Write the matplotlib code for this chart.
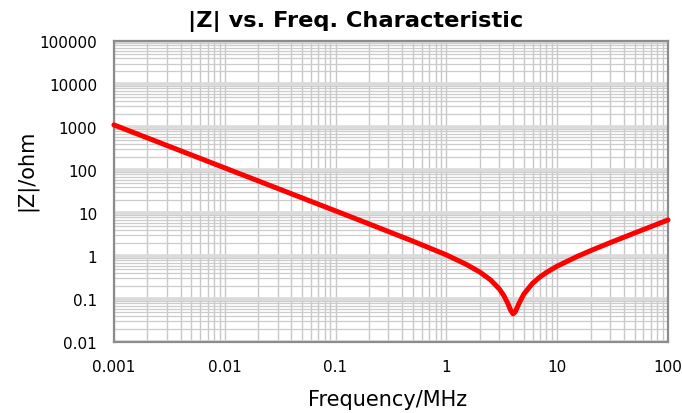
import matplotlib
matplotlib.use("Agg")
import matplotlib.pyplot as plt
from matplotlib.ticker import LogLocator, FuncFormatter, NullFormatter

# Data
freq_mhz = [0.001, 0.002, 0.005, 0.01, 0.02, 0.05, 0.1, 0.2, 0.5, 1.0, 1.5, 2.0,
            2.5, 3.0, 3.3, 3.6, 3.8, 4.0, 4.2, 4.5, 5.0, 6.0, 7.0, 8.0, 10.0,
            15.0, 20.0, 30.0, 50.0, 70.0, 100.0]
impedance_ohm = [1120, 560, 224, 112, 56.0, 22.4, 11.2, 5.59, 2.21, 1.06, 0.645, 0.425,
                 0.279, 0.172, 0.120, 0.077, 0.055, 0.045, 0.051, 0.077, 0.130, 0.232,
                 0.327, 0.415, 0.581, 0.963, 1.33, 2.04, 3.43, 4.82, 6.90]

title = "|Z| vs. Freq. Characteristic"
xlabel = "Frequency/MHz"
ylabel = "|Z|/ohm"

W, H = 682, 414
fig = plt.figure(figsize=(6.82, 4.14), dpi=100)
ax = fig.add_axes([0.167, 0.1715, 0.8125, 0.727])

ax.set_xscale("log")
ax.set_yscale("log")
ax.set_xlim(0.001, 100)
ax.set_ylim(0.01, 100000)

# grid
ax.xaxis.set_major_locator(LogLocator(base=10, numticks=20))
ax.xaxis.set_minor_locator(LogLocator(base=10, subs=range(2, 10), numticks=20))
ax.yaxis.set_major_locator(LogLocator(base=10, numticks=20))
ax.yaxis.set_minor_locator(LogLocator(base=10, subs=range(2, 10), numticks=20))
ax.grid(True, which="major", axis="x", color="#c8c8c8", linewidth=1.0)
ax.grid(True, which="minor", axis="x", color="#c8c8c8", linewidth=1.0)
ax.grid(True, which="major", axis="y", color="#dadada", linewidth=2.6)
ax.grid(True, which="minor", axis="y", color="#cccccc", linewidth=0.9)
ax.set_axisbelow(True)

fmt = FuncFormatter(lambda v, p: "%g" % v)
ax.xaxis.set_major_formatter(fmt)
ax.yaxis.set_major_formatter(fmt)
ax.xaxis.set_minor_formatter(NullFormatter())
ax.yaxis.set_minor_formatter(NullFormatter())
ax.tick_params(which="both", length=0)
ax.tick_params(axis="x", pad=12, labelsize=11)
ax.tick_params(axis="y", pad=12, labelsize=11)

for s in ax.spines.values():
    s.set_color("#8c8c8c")
    s.set_linewidth(1.6)

ax.plot(freq_mhz, impedance_ohm, color="#ff0000", linewidth=3.6,
        solid_capstyle="round", solid_joinstyle="round", zorder=5, clip_on=False)

fig.text(356 / W, 1 - 22 / H, title, fontsize=16.2, fontweight="bold",
         ha="center", va="center")
fig.text(388 / W, 1 - 400 / H, xlabel, fontsize=15, ha="center", va="center")
fig.text(27 / W, 1 - 170 / H, ylabel, fontsize=15, ha="center", va="center",
         rotation=90)

fig.savefig("out.png", dpi=100)
